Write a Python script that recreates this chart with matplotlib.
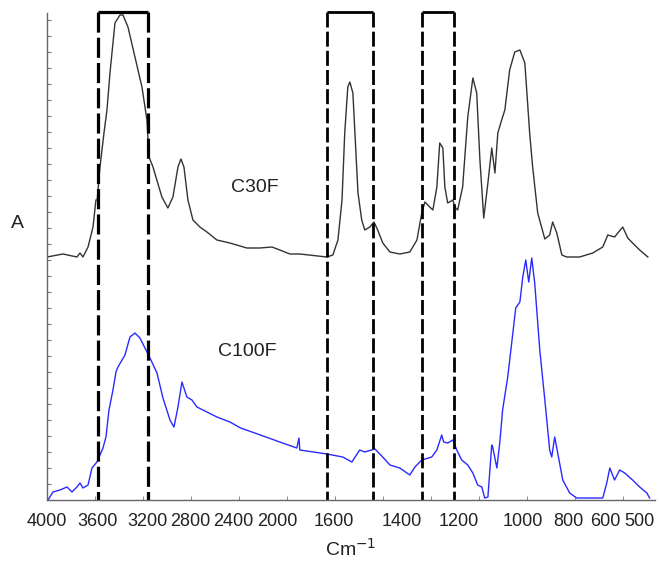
import numpy as np
import matplotlib
matplotlib.use("Agg")
import matplotlib.pyplot as plt

plt.rcParams['font.family'] = ['Liberation Sans', 'DejaVu Sans']

# spectra (wavenumber in cm-1, absorbance in arbitrary units)
wn_c30f = [4000, 3875, 3765, 3741, 3718, 3678, 3639, 3616, 3606, 3584, 3552, 3528,
           3504, 3464, 3424, 3400, 3360, 3304, 3248, 3208, 3190, 3152, 3124, 3067,
           3010, 2962, 2914, 2886, 2857, 2819, 2772, 2707, 2642, 2549, 2428, 2273,
           2155, 2045, 1979, 1909, 1839, 1649, 1607, 1588, 1576, 1568, 1559, 1553,
           1544, 1538, 1529, 1518, 1509, 1494, 1482, 1471, 1456, 1435, 1406, 1372,
           1347, 1330, 1319, 1302, 1291, 1277, 1267, 1256, 1249, 1239, 1221, 1214,
           1204, 1188, 1172, 1156, 1144, 1134, 1122, 1109, 1097, 1087, 1078, 1066,
           1056, 1041, 1025, 1009, 991, 970, 957, 935, 904, 883, 870, 852, 830, 809,
           741, 670, 616, 594, 574, 550, 535, 521, 500, 476]
ab_c30f = [243, 246, 243, 247, 243, 253, 273, 300, 300, 333, 367, 390,
           427, 477, 485, 485, 473, 443, 413, 380, 343, 333, 323, 303,
           292, 303, 333, 341, 333, 300, 280, 273, 268, 260, 257, 252,
           252, 253, 250, 246, 246, 243, 245, 260, 300, 367, 413, 418,
           407, 367, 307, 280, 270, 273, 278, 270, 257, 248, 246, 248,
           260, 287, 298, 293, 290, 313, 357, 352, 313, 297, 300, 293,
           290, 313, 383, 422, 407, 340, 282, 317, 352, 327, 367, 380,
           390, 430, 448, 450, 437, 367, 333, 287, 261, 265, 278, 267, 245, 243,
           243, 247, 253, 265, 263, 273, 262, 257, 250, 243]

wn_c100f = [3992, 3953, 3898, 3843, 3804, 3765, 3741, 3718, 3678, 3647, 3608, 3560,
            3536, 3512, 3480, 3456, 3440, 3384, 3344, 3304, 3264, 3224, 3181, 3114,
            3057, 2990, 2952, 2914, 2876, 2829, 2781, 2735, 2642, 2549, 2428, 2330,
            2150, 1980, 1860, 1845, 1839, 1649, 1574, 1547, 1524, 1509, 1479, 1459,
            1435, 1406, 1372, 1354, 1330, 1295, 1277, 1260, 1253, 1239, 1221, 1207,
            1191, 1172, 1156, 1141, 1128, 1119, 1109, 1097, 1094, 1081, 1072, 1063,
            1047, 1031, 1022, 1009, 1000, 987, 974, 961, 948, 926, 904, 883, 874,
            861, 848, 826, 795, 757, 670, 616, 597, 588, 574, 559, 544, 521, 500,
            479, 471]
ab_c100f = [0, 8, 10, 13, 8, 13, 17, 12, 15, 32, 38, 52,
            63, 90, 110, 128, 133, 145, 163, 167, 162, 152, 142, 127,
            102, 80, 73, 93, 118, 103, 100, 93, 88, 83, 78, 72,
            65, 58, 52, 62, 50, 46, 43, 38, 50, 48, 51, 44,
            35, 32, 25, 33, 40, 43, 50, 65, 58, 57, 60, 50,
            40, 35, 27, 15, 13, 2, 3, 55, 53, 32, 57, 90,
            123, 167, 192, 198, 223, 240, 218, 242, 217, 150, 100, 50, 43,
            63, 47, 20, 7, 2, 2, 2, 17, 32, 20, 30, 27, 20, 13,
            7, 2]

# highlighted regions (cm-1)
boxes = [(3600, 3200), (1650, 1485), (1330, 1218)]

tick_labels = [4000, 3600, 3200, 2800, 2400, 2000, 1600, 1400, 1200, 1000, 800, 600, 500]

# the original x axis is not linear: axis position of each wavenumber
scale_wn = np.array([0, 450, 500, 600, 800, 1000, 1200, 1400, 1600, 2000, 2400, 2800, 3200, 3600, 4000, 6000])
scale_pos = np.array([813, 657, 640, 606, 569, 523, 459, 402, 334, 277, 233, 190, 148, 98, 47, -110])


def forward(w):
    return -np.interp(w, scale_wn, scale_pos)


def inverse(p):
    return np.interp(-np.asarray(p), scale_pos[::-1], scale_wn[::-1])


fig = plt.figure(figsize=(6.6, 5.65), dpi=100)
ax = fig.add_axes([47 / 660, 65 / 565, 608 / 660, 487 / 565])
ax.set_xscale('function', functions=(forward, inverse))

ax.plot(wn_c30f, ab_c30f, color='#333333', lw=1.0)
ax.plot(wn_c100f, ab_c100f, color='#2a2aff', lw=1.0)

top = 488
for i, (a, b) in enumerate(boxes):
    lw = 2.3 if i == 0 else 2.0
    ls = (0, (6.3, 1.6)) if i == 0 else (0, (5.4, 1.5))
    ax.plot([a, b], [top, top], color='black', lw=lw, solid_capstyle='butt', clip_on=False)
    for x in (a, b):
        ax.plot([x, x], [top, 0], color='black', lw=lw, ls=ls, clip_on=False)

ax.text(2200, 313, 'C30F', fontsize=14, ha='center', va='center', color='#222222')
ax.text(2270, 148, 'C100F', fontsize=14, ha='center', va='center', color='#222222')

ax.set_xlim(4000, 455)
ax.set_ylim(0, 487)

ax.set_xticks(tick_labels)
ax.set_xticklabels([str(t) for t in tick_labels])
ax.tick_params(axis='x', which='major', length=0, pad=9, labelsize=13, colors='#222222')
ax.set_xticks(inverse(-(47 + 48 * np.arange(1, 13))), minor=True)
ax.tick_params(axis='x', which='minor', direction='in', length=3, color='#777777')
ax.set_yticks(np.arange(0, 488, 16))
ax.tick_params(axis='y', direction='in', length=3, color='#777777', labelleft=False)

for s in ('top', 'right'):
    ax.spines[s].set_visible(False)
for s in ('left', 'bottom'):
    ax.spines[s].set_color('#666666')
    ax.spines[s].set_linewidth(1.0)

ax.set_xlabel('Cm$^{-1}$', fontsize=14, labelpad=6, color='#222222')
fig.text(17 / 660, 1 - 224 / 565, 'A', fontsize=14, ha='center', va='center', color='#222222')

fig.savefig('out.png', dpi=100)
